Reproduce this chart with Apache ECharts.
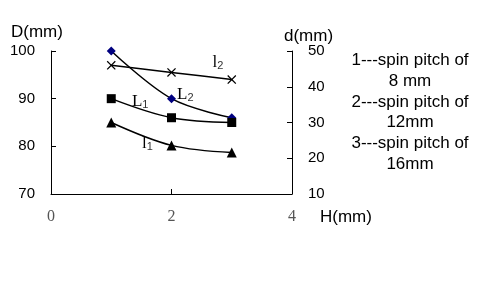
<!DOCTYPE html>
<html>
<head>
<meta charset="utf-8">
<script src="https://cdn.jsdelivr.net/npm/echarts@6/dist/echarts.min.js"></script>
<style>html,body{margin:0;padding:0;background:#fff}#c{width:480px;height:284px}</style>
</head>
<body>
<div id="c"></div>
<script>
// ---- data ----
var H = [1, 2, 3];
var L1 = [90, 86, 85];        // D(mm), squares
var L2 = [100, 90, 86];       // D(mm), diamonds
var l2 = [46, 44, 42];        // d(mm), crosses
var l1 = [30, 23.6, 21.6];    // d(mm), triangles
var xTicks = [0, 2, 4];
var leftTicks = [70, 80, 90, 100];
var rightTicks = [10, 20, 30, 40, 50];
var legendLines = ['1---spin pitch of', '8 mm', '2---spin pitch of', '12mm', '3---spin pitch of', '16mm'];
var annoNames = ['l', 'L', 'L', 'l'];
var annoSubs = ['2', '2', '1', '1'];
var annoX = [2.77, 2.23, 1.48, 1.6];
var annoD = [97.5, 90.8, 89.3, 80.5];

function pairs(xs, ys) { return xs.map(function (x, i) { return [x, ys[i]]; }); }

var chart = echarts.init(document.getElementById('c'));
var sans = 'Liberation Sans, Arial, sans-serif';
var serif = 'Liberation Serif, Times New Roman, serif';
var crossPath = 'path://M1,0 L5,4 L9,0 L10,1 L6,5 L10,9 L9,10 L5,6 L1,10 L0,9 L4,5 L0,1 Z';

var axisLine = { show: true, lineStyle: { color: '#000', width: 1 } };
var axisTick = { show: true, inside: true, length: 5, lineStyle: { color: '#000', width: 1 } };

var option = {
  animation: false,
  backgroundColor: '#fff',
  grid: { left: 51, right: 188, top: 51, bottom: 90 },
  xAxis: {
    type: 'value', min: xTicks[0], max: xTicks[xTicks.length - 1], interval: xTicks[1] - xTicks[0],
    axisLine: axisLine, axisTick: axisTick, splitLine: { show: false },
    axisLabel: { fontFamily: serif, fontSize: 16, color: '#555', margin: 15 }
  },
  yAxis: [{
    type: 'value', position: 'left', min: leftTicks[0], max: leftTicks[leftTicks.length - 1], interval: 10,
    axisLine: axisLine, axisTick: axisTick, splitLine: { show: false },
    axisLabel: { fontFamily: sans, fontSize: 15, color: '#000', margin: 16 }
  }, {
    type: 'value', position: 'right', min: rightTicks[0], max: rightTicks[rightTicks.length - 1], interval: 10,
    axisLine: axisLine, axisTick: axisTick, splitLine: { show: false },
    axisLabel: { fontFamily: sans, fontSize: 15, color: '#000', margin: 16 }
  }],
  series: [
    { type: 'line', yAxisIndex: 0, data: pairs(H, L2), smooth: 0.35, symbol: 'diamond', symbolSize: 9,
      lineStyle: { color: '#000', width: 1.5 }, itemStyle: { color: '#000080', borderWidth: 0 } },
    { type: 'line', yAxisIndex: 0, data: pairs(H, L1), smooth: 0.35, symbol: 'rect', symbolSize: 9,
      lineStyle: { color: '#000', width: 1.5 }, itemStyle: { color: '#000', borderWidth: 0 } },
    { type: 'line', yAxisIndex: 1, data: pairs(H, l2), smooth: 0.2, symbol: crossPath, symbolSize: 9,
      lineStyle: { color: '#000', width: 1.5 }, itemStyle: { color: '#000', borderWidth: 0 } },
    { type: 'line', yAxisIndex: 1, data: pairs(H, l1), smooth: 0.35, symbol: 'triangle', symbolSize: 10,
      lineStyle: { color: '#000', width: 1.5 }, itemStyle: { color: '#000', borderWidth: 0 } }
  ]
};
chart.setOption(option);

var g = [];
g.push({ type: 'text', left: 11, top: 24, style: { text: 'D(mm)', font: '17px ' + sans, fill: '#000' } });
g.push({ type: 'text', left: 284, top: 28, style: { text: 'd(mm)', font: '17px ' + sans, fill: '#000' } });
g.push({ type: 'text', left: 320, top: 209, style: { text: 'H(mm)', font: '17px ' + sans, fill: '#000' } });
g.push({ type: 'text', x: 410, y: 50, style: { text: legendLines.join('\n'), font: '17px ' + sans, fill: '#000', align: 'center', verticalAlign: 'top', lineHeight: 20.8 } });
for (var i = 0; i < annoNames.length; i++) {
  var p = chart.convertToPixel({ xAxisIndex: 0, yAxisIndex: 0 }, [annoX[i], annoD[i]]);
  g.push({ type: 'text', x: p[0], y: p[1], style: {
    text: '{a|' + annoNames[i] + '}{b|' + annoSubs[i] + '}', align: 'center', verticalAlign: 'middle',
    rich: { a: { fontFamily: serif, fontSize: 17, fill: '#000', color: '#000' },
            b: { fontFamily: sans, fontSize: 11, fill: '#333', color: '#333', padding: [6, 0, 0, 0] } } } });
}
chart.setOption({ graphic: g });
</script>
</body>
</html>
